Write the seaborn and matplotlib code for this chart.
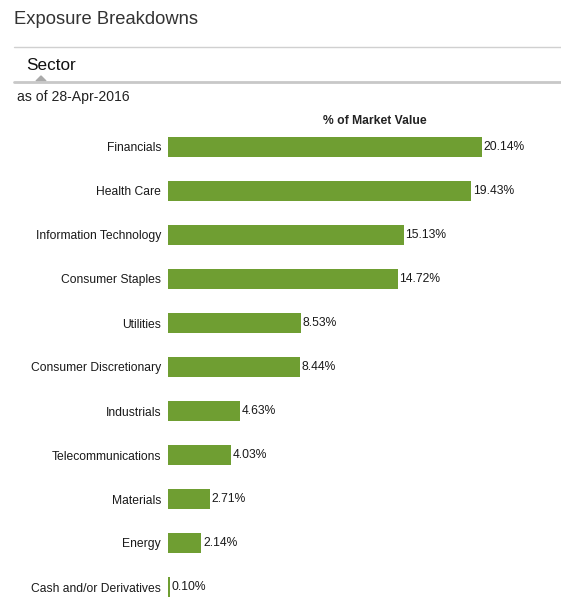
import matplotlib
matplotlib.use("Agg")
import matplotlib.pyplot as plt
import seaborn as sns
import pandas as pd

# data
sectors = ["Financials", "Health Care", "Information Technology", "Consumer Staples",
           "Utilities", "Consumer Discretionary", "Industrials", "Telecommunications",
           "Materials", "Energy", "Cash and/or Derivatives"]
weights = [20.14, 19.43, 15.13, 14.72, 8.53, 8.44, 4.63, 4.03, 2.71, 2.14, 0.10]

df = pd.DataFrame({"sector": sectors, "weight": weights})

sns.set_style("white")
plt.rcParams["font.family"] = ["Liberation Sans", "DejaVu Sans"]

W, H = 561, 608
fig = plt.figure(figsize=(W / 100, H / 100), dpi=100)

# axes placed in pixel terms
left, right, top = 168, 550, 125
ax = fig.add_axes([left / W, 0, (right - left) / W, 1 - top / H])

green = "#6f9e32"
sns.barplot(data=df, x="weight", y="sector", color=green, width=0.47,
            saturation=1, linewidth=0, ax=ax)
ax.set_xlim(0, (right - left) / 15.6)
ax.set_ylim((H - 587) / 44 + 10, -0.5)

for i, v in enumerate(weights):
    ax.text(v + 0.1, i, f"{v:.2f}%", va="center", ha="left", fontsize=8.7, color="#1a1a1a")

ax.set_xlabel("")
ax.set_ylabel("")
ax.set_xticks([])
ax.tick_params(axis="y", length=0, pad=5, labelsize=8.7, labelcolor="#1a1a1a")
for s in ax.spines.values():
    s.set_visible(False)

# header texts and rules
fig.text(14 / W, 1 - 20 / H, "Exposure Breakdowns", fontsize=13.2, color="#333333", va="center")
fig.add_artist(plt.Line2D([14 / W, 1], [1 - 47 / H] * 2, color="#d0d0d0", lw=1))
fig.text(26 / W, 1 - 65 / H, "Sector", fontsize=12.3, color="#111111", va="center")
fig.add_artist(plt.Line2D([14 / W, 1], [1 - 82 / H] * 2, color="#c8c8c8", lw=2))
fig.add_artist(plt.Polygon([[36 / W, 1 - 81 / H], [46 / W, 1 - 81 / H], [41 / W, 1 - 76 / H]],
                           closed=True, color="#aaaaaa", transform=fig.transFigure))
fig.text(17 / W, 1 - 97 / H, "as of 28-Apr-2016", fontsize=10.1, color="#222222", va="center")
fig.text(375 / W, 1 - 121 / H, "% of Market Value", fontsize=8.7, fontweight="bold",
         color="#222222", ha="center", va="center")

fig.savefig("out.png", dpi=100)
